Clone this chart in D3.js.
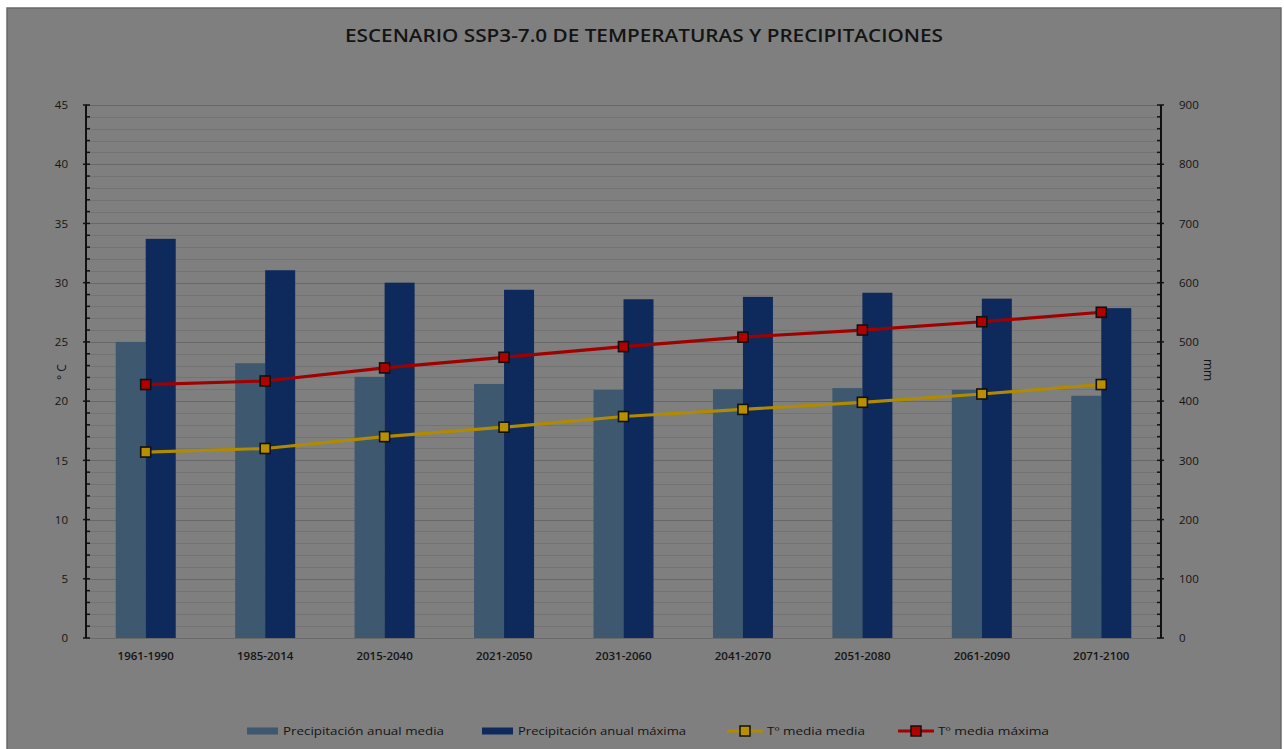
<!DOCTYPE html>
<html>
<head>
<meta charset="utf-8">
<script src="https://cdn.jsdelivr.net/npm/d3@7"></script>
<style>
  html, body { margin: 0; padding: 0; background: #ffffff; }
  svg { display: block; }
  text { font-family: "Open Sans", "Liberation Sans", sans-serif; fill: #141414; }
</style>
</head>
<body>
<svg id="chart" width="1284" height="749"></svg>
<script>
// Periods on the x axis
const periods = ["1961-1990", "1985-2014", "2015-2040", "2021-2050", "2031-2060",
                 "2041-2070", "2051-2080", "2061-2090", "2071-2100"];
// Precipitation (mm, right axis)
const precipMedia = [500, 464, 441, 429, 419, 420, 422, 419, 409];
const precipMaxima = [674, 621, 600, 588, 572, 576, 583, 573, 557];
// Temperatures (°C, left axis)
const tMediaMedia = [15.7, 16.0, 17.0, 17.8, 18.7, 19.3, 19.9, 20.6, 21.4];
const tMediaMaxima = [21.4, 21.7, 22.8, 23.7, 24.6, 25.4, 26.0, 26.7, 27.5];
// Axis tick labels
const tempTicks = [0, 5, 10, 15, 20, 25, 30, 35, 40, 45];
const mmTicks = [0, 100, 200, 300, 400, 500, 600, 700, 800, 900];
const seriesNames = ["Precipitación anual media", "Precipitación anual máxima", "Tº media media", "Tº media máxima"];

const colors = {
  bg: "#7f7f7f",
  light: "#3e5870",
  dark: "#0e2a5c",
  yellow: "#b08a00",
  yellowFill: "#b88f00",
  red: "#a00000",
  redFill: "#b00000",
  gridMajor: "#686868",
  gridMinor: "#737373"
};

const svg = d3.select("#chart");

// Chart frame
svg.append("rect").attr("x", 7).attr("y", 8).attr("width", 1274).attr("height", 745)
  .attr("fill", colors.bg).attr("stroke", "#6a6a6a").attr("stroke-width", 1.5);

const plot = { left: 86, right: 1161, top: 105, bottom: 638 };

const x = d3.scaleBand().domain(periods).range([plot.left, plot.right]).paddingInner(0).paddingOuter(0);
const yT = d3.scaleLinear().domain([0, 45]).range([plot.bottom, plot.top]);
const yP = d3.scaleLinear().domain([0, 900]).range([plot.bottom, plot.top]);

// Gridlines: minor every 1 °C, major every 5 °C
const g = svg.append("g");
d3.range(1, 46).forEach(v => {
  const major = v % 5 === 0;
  g.append("line")
    .attr("x1", plot.left).attr("x2", plot.right)
    .attr("y1", Math.round(yT(v)) + 0.5).attr("y2", Math.round(yT(v)) + 0.5)
    .attr("stroke", major ? colors.gridMajor : colors.gridMinor)
    .attr("stroke-width", major ? 1.2 : 1);
});
// Baseline
g.append("line").attr("x1", plot.left).attr("x2", plot.right)
  .attr("y1", plot.bottom + 0.5).attr("y2", plot.bottom + 0.5)
  .attr("stroke", "#6a6a6a").attr("stroke-width", 1.2);

// Bars
const barW = 30;
const bars = svg.append("g");
periods.forEach((p, i) => {
  const cx = x(p) + x.bandwidth() / 2;
  bars.append("rect")
    .attr("x", cx - barW).attr("width", barW)
    .attr("y", yP(precipMedia[i])).attr("height", yP(0) - yP(precipMedia[i]))
    .attr("fill", colors.light);
  bars.append("rect")
    .attr("x", cx).attr("width", barW)
    .attr("y", yP(precipMaxima[i])).attr("height", yP(0) - yP(precipMaxima[i]))
    .attr("fill", colors.dark);
});

// Lines with square markers
function drawLine(values, stroke, fill) {
  const line = d3.line()
    .x((d, i) => x(periods[i]) + x.bandwidth() / 2)
    .y(d => yT(d));
  svg.append("path").datum(values)
    .attr("d", line).attr("fill", "none")
    .attr("stroke", stroke).attr("stroke-width", 3.2);
  svg.append("g").selectAll("rect").data(values).join("rect")
    .attr("x", (d, i) => x(periods[i]) + x.bandwidth() / 2 - 5)
    .attr("y", d => yT(d) - 5)
    .attr("width", 10).attr("height", 10)
    .attr("fill", fill).attr("stroke", "#111").attr("stroke-width", 1.6);
}
drawLine(tMediaMedia, colors.yellow, colors.yellowFill);
drawLine(tMediaMaxima, colors.red, colors.redFill);

// Left axis (°C)
const leftAxis = d3.axisLeft(yT).tickValues(tempTicks).tickSize(0).tickPadding(18);
const la = svg.append("g").attr("transform", `translate(${plot.left},0)`).call(leftAxis);
la.select(".domain").remove();
la.selectAll("text").attr("font-size", 11.5).attr("font-weight", 500).attr("fill", "#141414");
svg.append("line").attr("x1", plot.left).attr("x2", plot.left)
  .attr("y1", plot.top).attr("y2", plot.bottom).attr("stroke", "#111").attr("stroke-width", 2);
d3.range(0, 46).forEach(v => {
  const major = v % 5 === 0;
  svg.append("line")
    .attr("x1", plot.left - (major ? 3 : 0)).attr("x2", plot.left + 4)
    .attr("y1", yT(v)).attr("y2", yT(v))
    .attr("stroke", "#111").attr("stroke-width", 1.5);
});

// Right axis (mm)
const rightAxis = d3.axisRight(yP).tickValues(mmTicks).tickSize(0).tickPadding(18);
const ra = svg.append("g").attr("transform", `translate(${plot.right},0)`).call(rightAxis);
ra.select(".domain").remove();
ra.selectAll("text").attr("font-size", 11.5).attr("font-weight", 500).attr("fill", "#141414");
svg.append("line").attr("x1", plot.right).attr("x2", plot.right)
  .attr("y1", plot.top).attr("y2", plot.bottom).attr("stroke", "#111").attr("stroke-width", 2);
d3.range(0, 901, 20).forEach(v => {
  const major = v % 100 === 0;
  svg.append("line")
    .attr("x1", plot.right - 4).attr("x2", plot.right + (major ? 3 : 0))
    .attr("y1", yP(v)).attr("y2", yP(v))
    .attr("stroke", "#111").attr("stroke-width", 1.5);
});

// Category axis labels
const xa = svg.append("g").attr("transform", `translate(0,${plot.bottom})`)
  .call(d3.axisBottom(x).tickSize(0).tickPadding(14));
xa.select(".domain").remove();
xa.selectAll("text").attr("font-size", 11.5).attr("font-weight", 600).attr("fill", "#141414");

// Axis titles
svg.append("text").attr("transform", "translate(66,372) rotate(-90)")
  .attr("text-anchor", "middle").attr("font-size", 12).attr("font-weight", 500).text("° C");
svg.append("text").attr("transform", "translate(1204,370) rotate(90)")
  .attr("text-anchor", "middle").attr("font-size", 12).attr("font-weight", 500).text("mm");

// Title
svg.append("text").attr("x", 644).attr("y", 42).attr("text-anchor", "middle")
  .attr("font-size", 17.5).attr("font-weight", 600)
  .attr("textLength", 598).attr("lengthAdjust", "spacingAndGlyphs")
  .text("ESCENARIO SSP3-7.0 DE TEMPERATURAS Y PRECIPITACIONES");

// Legend
const ly = 731;
const legend = svg.append("g");
const legendItems = [
  { x: 247, type: "bar", color: colors.light, name: seriesNames[0], tx: 283, tw: 161 },
  { x: 482, type: "bar", color: colors.dark, name: seriesNames[1], tx: 518, tw: 168 },
  { x: 727, type: "line", color: colors.yellow, fill: colors.yellowFill, name: seriesNames[2], tx: 767, tw: 98 },
  { x: 898, type: "line", color: colors.red, fill: colors.redFill, name: seriesNames[3], tx: 938, tw: 111 }
];
legendItems.forEach(it => {
  if (it.type === "bar") {
    legend.append("rect").attr("x", it.x).attr("y", ly - 3.5).attr("width", 31).attr("height", 7).attr("fill", it.color);
  } else {
    legend.append("line").attr("x1", it.x).attr("x2", it.x + 36).attr("y1", ly).attr("y2", ly)
      .attr("stroke", it.color).attr("stroke-width", 3);
    legend.append("rect").attr("x", it.x + 13).attr("y", ly - 5).attr("width", 10).attr("height", 10)
      .attr("fill", it.fill).attr("stroke", "#111").attr("stroke-width", 1.5);
  }
  legend.append("text").attr("x", it.tx).attr("y", ly + 4).attr("font-size", 11.5).attr("font-weight", 500)
    .attr("textLength", it.tw).attr("lengthAdjust", "spacingAndGlyphs")
    .text(it.name);
});
</script>
</body>
</html>
